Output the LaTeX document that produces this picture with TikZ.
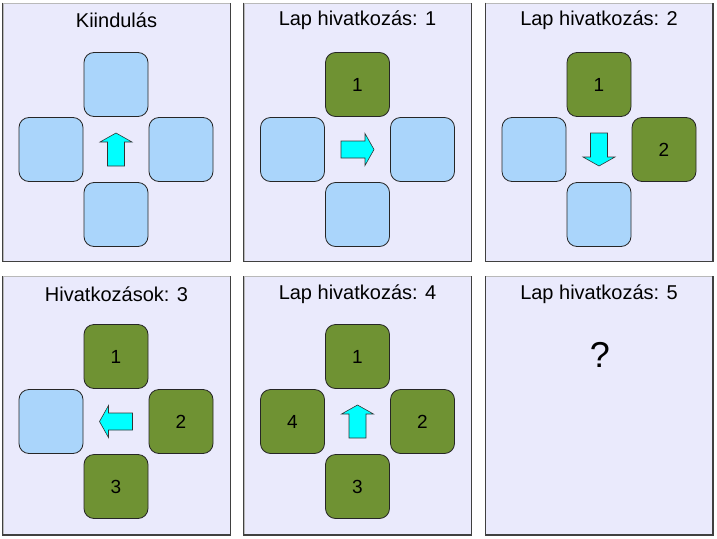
\documentclass[tikz,border=0pt]{standalone}
\usepackage{fontspec}
\setmainfont{Liberation Sans}
\definecolor{panelbg}{HTML}{EAEAFC}
\definecolor{boxblue}{HTML}{AAD5FB}
\definecolor{boxgreen}{HTML}{6F9233}
\definecolor{arrcyan}{HTML}{00FFFF}
\tikzset{
  panel/.style={draw=gray!55, line width=0.8pt, fill=panelbg, minimum width=227pt, minimum height=258pt, inner sep=0pt},
  paneledge/.style={draw=black!75, line width=1.2pt},
  title/.style={font=\fontsize{20}{24}\selectfont, inner sep=0pt},
  card/.style={draw=black!85, line width=0.8pt, rounded corners=10pt, minimum width=64pt, minimum height=64pt, inner sep=0pt, font=\fontsize{19}{23}\selectfont},
  free/.style={card, fill=boxblue},
  used/.style={card, fill=boxgreen},
  arrowsty/.style={draw=black!80, line width=0.6pt, fill=arrcyan},
  arr/.pic={\path[arrowsty] (-16.5,-8.5) -- (7.5,-8.5) -- (7.5,-16) -- (16.5,0) -- (7.5,16) -- (7.5,8.5) -- (-16.5,8.5) -- cycle;}
}
\begin{document}
\begin{tikzpicture}[x=1pt,y=-1pt]
\useasboundingbox (0,0) rectangle (717,538);
% panels
\foreach \n/\cx/\cy in {1/116.5/132, 2/357.5/132, 3/599/132, 4/116.5/405.5, 5/357.5/405.5, 6/599/405.5}{
  \node[panel] (p\n) at (\cx,\cy) {};
  \draw[paneledge] (p\n.north west) -- (p\n.south west) -- (p\n.south east) -- (p\n.north east);
}
% titles
\node[title] (t1) at ([yshift=-18pt]p1.north) {Kiindulás};
\node[title] (t2) at ([yshift=-18pt]p2.north) {Lap hivatkozás: 1};
\node[title] (t3) at ([yshift=-18pt]p3.north) {Lap hivatkozás: 2};
\node[title] (t4) at ([yshift=-18pt]p4.north) {Hivatkozások: 3};
\node[title] (t5) at ([yshift=-18pt]p5.north) {Lap hivatkozás: 4};
\node[title] (t6) at ([yshift=-18pt]p6.north) {Lap hivatkozás: 5};
% panel 1
\begin{scope}[shift={(116,149.5)}]
  \node[free] (a1n) at (0,-65) {};
  \node[free] (a1e) at (65,0) {};
  \node[free] (a1s) at (0,65) {};
  \node[free] (a1w) at (-65,0) {};
  \pic[rotate=90] {arr};
\end{scope}
% panel 2
\begin{scope}[shift={(357.5,149.5)}]
  \node[used] (a2n) at (0,-65) {1};
  \node[free] (a2e) at (65,0) {};
  \node[free] (a2s) at (0,65) {};
  \node[free] (a2w) at (-65,0) {};
  \pic[rotate=0] {arr};
\end{scope}
% panel 3
\begin{scope}[shift={(599,149.5)}]
  \node[used] (a3n) at (0,-65) {1};
  \node[used] (a3e) at (65,0) {2};
  \node[free] (a3s) at (0,65) {};
  \node[free] (a3w) at (-65,0) {};
  \pic[rotate=-90] {arr};
\end{scope}
% panel 4
\begin{scope}[shift={(116,421.5)}]
  \node[used] (a4n) at (0,-65) {1};
  \node[used] (a4e) at (65,0) {2};
  \node[used] (a4s) at (0,65) {3};
  \node[free] (a4w) at (-65,0) {};
  \pic[rotate=180] {arr};
\end{scope}
% panel 5
\begin{scope}[shift={(357.5,421.5)}]
  \node[used] (a5n) at (0,-65) {1};
  \node[used] (a5e) at (65,0) {2};
  \node[used] (a5s) at (0,65) {3};
  \node[used] (a5w) at (-65,0) {4};
  \pic[rotate=90] {arr};
\end{scope}
% panel 6
\node[font=\fontsize{36}{40}\selectfont, inner sep=0pt] (q) at (600,355) {?};
\end{tikzpicture}
\end{document}
